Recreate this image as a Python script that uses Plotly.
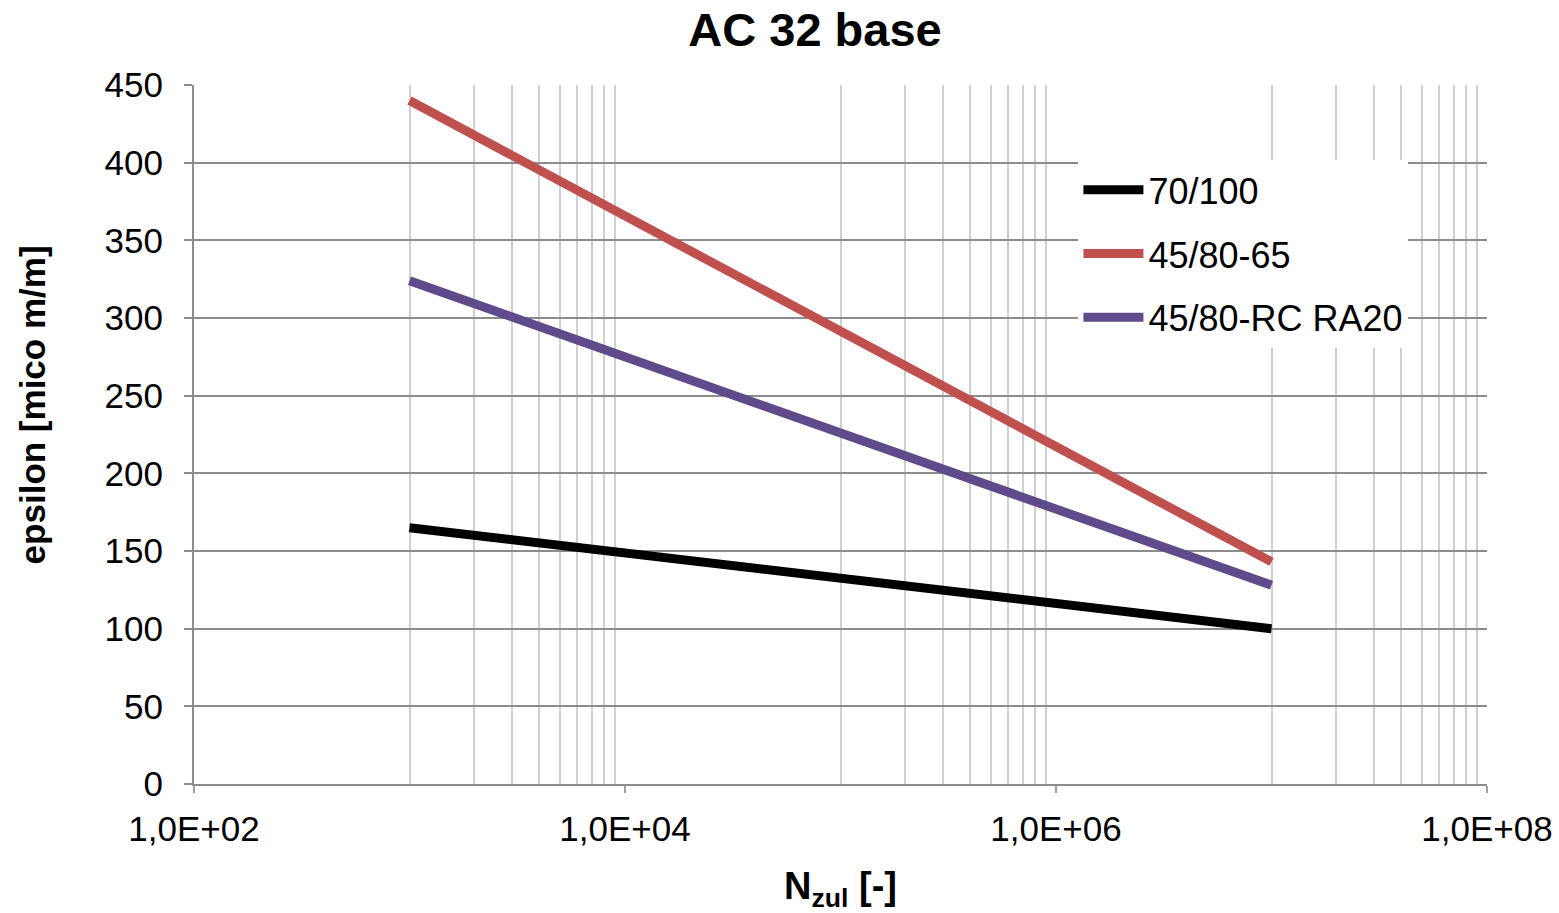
import plotly.graph_objects as go

# Fatigue lines: strain vs. allowable load cycles (two end points each, log x)
n_cycles = [1e3, 1e7]
series_names = ["70/100", "45/80-65", "45/80-RC RA20"]
eps_70_100 = [165, 100]
eps_45_80_65 = [440, 143]
eps_45_80_rc = [324, 128]
colors = ["#000000", "#c0504d", "#5f4b8b"]

major_ticks = [1e2, 1e4, 1e6, 1e8]
major_labels = ["1,0E+02", "1,0E+04", "1,0E+06", "1,0E+08"]
# minor grid: one full decade of lines after every labelled decade boundary
minor_ticks = [m * 10 ** e for e in (3, 5, 7) for m in range(1, 10)] + [1e8]
y_ticks = list(range(0, 451, 50))

fig = go.Figure()
for i, (name, vals) in enumerate(zip(series_names, [eps_70_100, eps_45_80_65, eps_45_80_rc])):
    fig.add_trace(go.Scatter(
        x=n_cycles, y=vals, mode="lines", name=name,
        line=dict(color=colors[i], width=9), legendgroup=name,
    ))

font_family = "Liberation Sans, Arial, sans-serif"

fig.update_layout(
    width=1559, height=913,
    margin=dict(l=194, r=72, t=85, b=129),
    paper_bgcolor="white", plot_bgcolor="white",
    font=dict(family=font_family, color="#000000", size=35),
    title=dict(text="<b>AC 32 base</b>", x=815 / 1559, xanchor="center",
               y=1 - 30 / 913, yanchor="middle", font=dict(size=47)),
    showlegend=True,
    legend=dict(x=0.684, y=0.893, xanchor="left", yanchor="top",
                bgcolor="white", font=dict(size=36),
                tracegroupgap=14, traceorder="grouped", itemwidth=60),
    xaxis=dict(
        type="log", range=[2, 8], automargin=False,
        tickvals=major_ticks, ticktext=major_labels,
        showgrid=False, ticks="outside", ticklen=7, tickcolor="#a0a0a0",
        tickwidth=2, showline=True, linecolor="#8c8c8c", linewidth=2,
        zeroline=False, tickfont=dict(size=35), ticklabelstandoff=6,
        minor=dict(tickvals=minor_ticks, showgrid=True, gridcolor="#d0d0d0",
                   gridwidth=2, ticks=""),
        title=dict(text="<b>N<sub>zul</sub> [-]</b>", font=dict(size=38), standoff=26),
    ),
    yaxis=dict(
        range=[0, 450], tickvals=y_ticks, automargin=False,
        showgrid=True, gridcolor="#8c8c8c", gridwidth=2,
        ticks="outside", ticklen=8, tickcolor="#8c8c8c", tickwidth=2,
        showline=True, linecolor="#8c8c8c", linewidth=2,
        zeroline=False, tickfont=dict(size=35), ticklabelstandoff=14,
    ),
    annotations=[dict(
        text="<b>epsilon [mico m/m]</b>", textangle=-90,
        xref="paper", yref="paper", x=-0.125, y=(784 - 405) / 699,
        xanchor="center", yanchor="middle", showarrow=False,
        font=dict(size=35),
    )],
)

fig.write_html("out.html")
